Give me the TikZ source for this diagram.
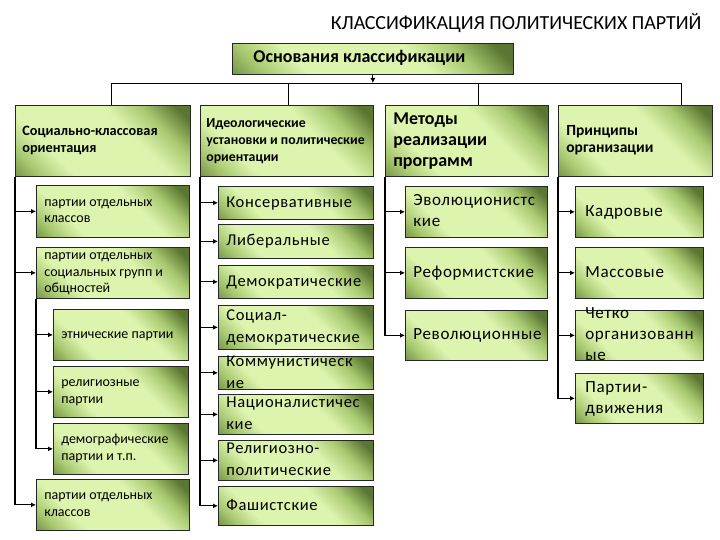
\documentclass[tikz,border=0pt]{standalone}
\usepackage{fontspec}
\setmainfont{Carlito}
\newfontfamily\spc[LetterSpace=4]{Carlito}
\usetikzlibrary{arrows.meta}
\definecolor{gdark}{HTML}{5A7630}
\definecolor{gmid}{HTML}{A8C870}
\definecolor{glight}{HTML}{DCF4AE}
\pgfdeclarehorizontalshading{gbox}{100bp}{color(0bp)=(gdark); color(10bp)=(gdark); color(22bp)=(gmid); color(32bp)=(glight); color(60bp)=(glight); color(71bp)=(gmid); color(81bp)=(gdark); color(100bp)=(gdark)}
\newcommand\bx[8]{%
  \pgfmathsetmacro\tw{#4-2*#6}%
  \node[box,inner xsep=#6pt,minimum width=#4pt,minimum height=#5pt,#7] (#1) at (#2,#3)
  {\vbox to 0pt{\vss\hbox{\makebox[\tw pt][l]{\begin{tabular}{@{}l@{}}#8\end{tabular}}}\vss}};}
\begin{document}
\begin{tikzpicture}[x=1pt,y=-1pt,
  box/.style={draw=black!85, line width=0.7pt, shading=gbox, shading angle=45, anchor=north west, inner ysep=0pt, text=black},
  fA/.style={font=\fontsize{14}{16.5}\selectfont},
  fB/.style={font=\fontsize{16.5}{22}\spc},
  fC/.style={font=\fontsize{17}{21}\spc},
  arr/.style={draw=black, line width=1.2pt, -{Latex[length=5pt,width=5pt]}},
  bus/.style={draw=black, line width=0.8pt}]
\useasboundingbox (0,0) rectangle (720,540);
\fill[white] (0,0) rectangle (720,540);
\node[anchor=east, font=\fontsize{20}{22}\selectfont] (title) at (705,23) {КЛАССИФИКАЦИЯ ПОЛИТИЧЕСКИХ ПАРТИЙ};
\bx{top}{232}{43}{281}{31}{21}{font=\fontsize{18}{19}\bfseries}{Основания классификации}
\bx{h1}{15}{105}{175}{71}{7}{font=\fontsize{14.3}{16.5}\bfseries}{Социально-классовая\\ориентация}
\bx{h2}{200}{105}{173}{71}{6}{font=\fontsize{13.8}{17}\bfseries}{Идеологические\\установки и политические\\ориентации}
\bx{h3}{385}{105}{163}{71}{8}{font=\fontsize{18}{21}\bfseries}{Методы\\реализации\\программ}
\bx{h4}{558}{105}{154}{71}{8}{font=\fontsize{15.5}{16.5}\bfseries}{Принципы\\организации}
% column 1
\bx{c11}{36}{185}{153}{52}{8}{fA}{партии отдельных\\классов}
\bx{c12}{36}{247}{153}{51}{8}{fA}{партии отдельных\\социальных групп и\\общностей}
\bx{c13}{53}{309}{135}{51}{8}{fA}{этнические партии}
\bx{c14}{53}{366}{135}{51}{8}{fA}{религиозные\\партии}
\bx{c15}{53}{423}{135}{51}{8}{fA}{демографические\\партии и т.п.}
\bx{c16}{36}{479}{153}{51}{8}{fA}{партии отдельных\\классов}
% column 2
\bx{c21}{218}{186}{155}{33}{8}{fB}{Консервативные}
\bx{c22}{218}{224}{155}{34}{8}{fB}{Либеральные}
\bx{c23}{218}{265}{155}{33}{8}{fB}{Демократические}
\bx{c24}{218}{305}{155}{44}{8}{fB}{Социал-\\демократические}
\bx{c25}{218}{356}{155}{33}{8}{fB}{Коммунистическ\\ие}
\bx{c26}{218}{394}{155}{40}{8}{fB}{Националистичес\\кие}
\bx{c27}{218}{440}{155}{40}{8}{fB}{Религиозно-\\политические}
\bx{c28}{218}{486}{155}{39}{8}{fB}{Фашистские}
% column 3
\bx{c31}{405}{186}{142}{51}{8}{fC}{Эволюционистс\\кие}
\bx{c32}{405}{247}{142}{51}{8}{fC}{Реформистские}
\bx{c33}{405}{310}{142}{50}{8}{fC}{Революционные}
% column 4
\bx{c41}{575}{186}{128}{51}{10}{fC}{Кадровые}
\bx{c42}{575}{247}{128}{51}{10}{fC}{Массовые}
\bx{c43}{575}{310}{128}{50}{10}{fC}{Четко\\организованн\\ые}
\bx{c44}{575}{373}{128}{50}{10}{fC}{Партии-\\движения}
% bus
\coordinate (s1) at (111,83);
\coordinate (s2) at (288,83);
\coordinate (s3) at (478,83);
\coordinate (s4) at (681,83);
\draw[bus] (s1) -- (s4);
\draw[bus] (s1) -- (s1 |- h1.north);
\draw[bus] (s2) -- (s2 |- h2.north);
\draw[bus] (s3) -- (s3 |- h3.north);
\draw[bus] (s4) -- (s4 |- h4.north);
\draw[bus, -{Latex[length=5pt,width=5pt]}] (top.south) -- (top.south |- s1);
% connectors
\foreach \c in {c11,c12,c16} \draw[arr] (h1.south west) |- (\c.west);
\foreach \c in {c13,c14,c15} \draw[arr] (c12.south west) |- (\c.west);
\foreach \c in {c21,c22,c23,c24,c25,c26,c27,c28} \draw[arr] (h2.south west) |- (\c.west);
\foreach \c in {c31,c32,c33} \draw[arr] (h3.south west) |- (\c.west);
\foreach \c in {c41,c42,c43,c44} \draw[arr] (h4.south west) |- (\c.west);
\end{tikzpicture}
\end{document}
